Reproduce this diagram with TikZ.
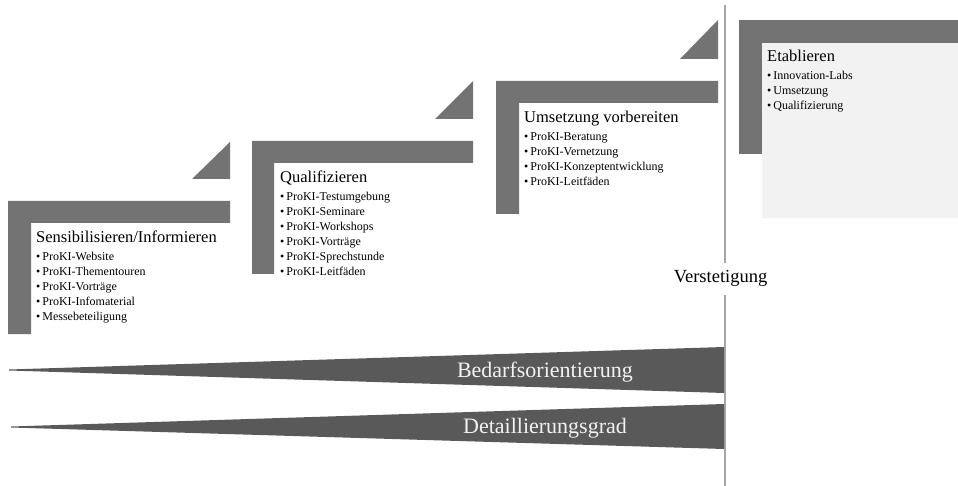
\documentclass[tikz,border=0pt]{standalone}
\usepackage{fontspec}
\setmainfont{Liberation Serif}
\usetikzlibrary{positioning}

\definecolor{stepgray}{HTML}{737373}
\definecolor{wedgegray}{HTML}{595959}
\definecolor{boxgray}{HTML}{F2F2F2}
\definecolor{linegray}{HTML}{A6A6A6}

\begin{document}
\begin{tikzpicture}[x=1pt, y=-1pt,
    stepbar/.style={fill=stepgray, draw=none},
    wedge/.style={fill=wedgegray, draw=none},
    title/.style={anchor=base west, inner sep=0pt, font=\fontsize{16.5}{20}\selectfont},
    items/.style={anchor=north west, inner sep=0pt, align=left, font=\fontsize{12}{15}\selectfont},
    wedgetext/.style={anchor=base, inner sep=0pt, text=boxgray, font=\fontsize{22}{26}\selectfont}]

            \useasboundingbox (0,0) rectangle (958,486);

            % Steps
            \fill[stepbar] (8,201) -- (230,201) -- (230,223) -- (31,223) -- (31,334) -- (8,334) -- cycle;
            \fill[stepbar] (230,142) -- (230,179) -- (192,179) -- cycle;

            \fill[stepbar] (252,141) -- (473,141) -- (473,163) -- (274,163) -- (274,274) -- (252,274) -- cycle;
            \fill[stepbar] (473,81) -- (473,119) -- (435,119) -- cycle;

            \fill[stepbar] (496,81) -- (718,81) -- (718,103) -- (519,103) -- (519,214) -- (496,214) -- cycle;
            \fill[stepbar] (718,20) -- (718,59) -- (680,59) -- cycle;

            \fill[stepbar] (739,20) rectangle (958,154);
            \fill[boxgray] (762,43) rectangle (958,218);

            \node[title] (sens) at (36,243) {Sensibilisieren/Informieren};
            \node[items] (sensitems) at (36,252) {\textbullet\,ProKI-Website\\\textbullet\,ProKI-Thementouren\\\textbullet\,ProKI-Vorträge\\\textbullet\,ProKI-Infomaterial\\\textbullet\,Messebeteiligung};

            \node[title] (quali) at (280,183) {Qualifizieren};
            \node[items] (qualiitems) at (280,192) {\textbullet\,ProKI-Testumgebung\\\textbullet\,ProKI-Seminare\\\textbullet\,ProKI-Workshops\\\textbullet\,ProKI-Vorträge\\\textbullet\,ProKI-Sprechstunde\\\textbullet\,ProKI-Leitfäden};

            \node[title] (umset) at (524,123) {Umsetzung vorbereiten};
            \node[items] (umsetitems) at (524,132) {\textbullet\,ProKI-Beratung\\\textbullet\,ProKI-Vernetzung\\\textbullet\,ProKI-Konzeptentwicklung\\\textbullet\,ProKI-Leitfäden};

            \node[title] (etab) at (767,62) {Etablieren};
            \node[items] (etabitems) at (767,71) {\textbullet\,Innovation-Labs\\\textbullet\,Umsetzung\\\textbullet\,Qualifizierung};

            % Verstetigung line
            \coordinate (vtop) at (725,5);
            \coordinate (vbot) at (725,486);
            \node[anchor=base, inner xsep=2pt, inner ysep=8pt, font=\fontsize{18.5}{22}\selectfont] (verst) at (720.5,283) {Verstetigung};
            \draw[linegray, line width=1.5pt] (vtop) -- (verst.north -| vtop);
            \draw[linegray, line width=1.5pt] (verst.south -| vbot) -- (vbot);

            % Wedges
            \fill[wedge] (9,369.5) -- (724,347) -- (724,393) -- (9,370.5) -- cycle;
            \node[wedgetext] (bedarf) at (545,377) {Bedarfsorientierung};

            \fill[wedge] (11,426.5) -- (724,404) -- (724,449) -- (11,427.5) -- cycle;
            \node[wedgetext] (detail) at (545,433) {Detaillierungsgrad};

        \end{tikzpicture}
\end{document}
